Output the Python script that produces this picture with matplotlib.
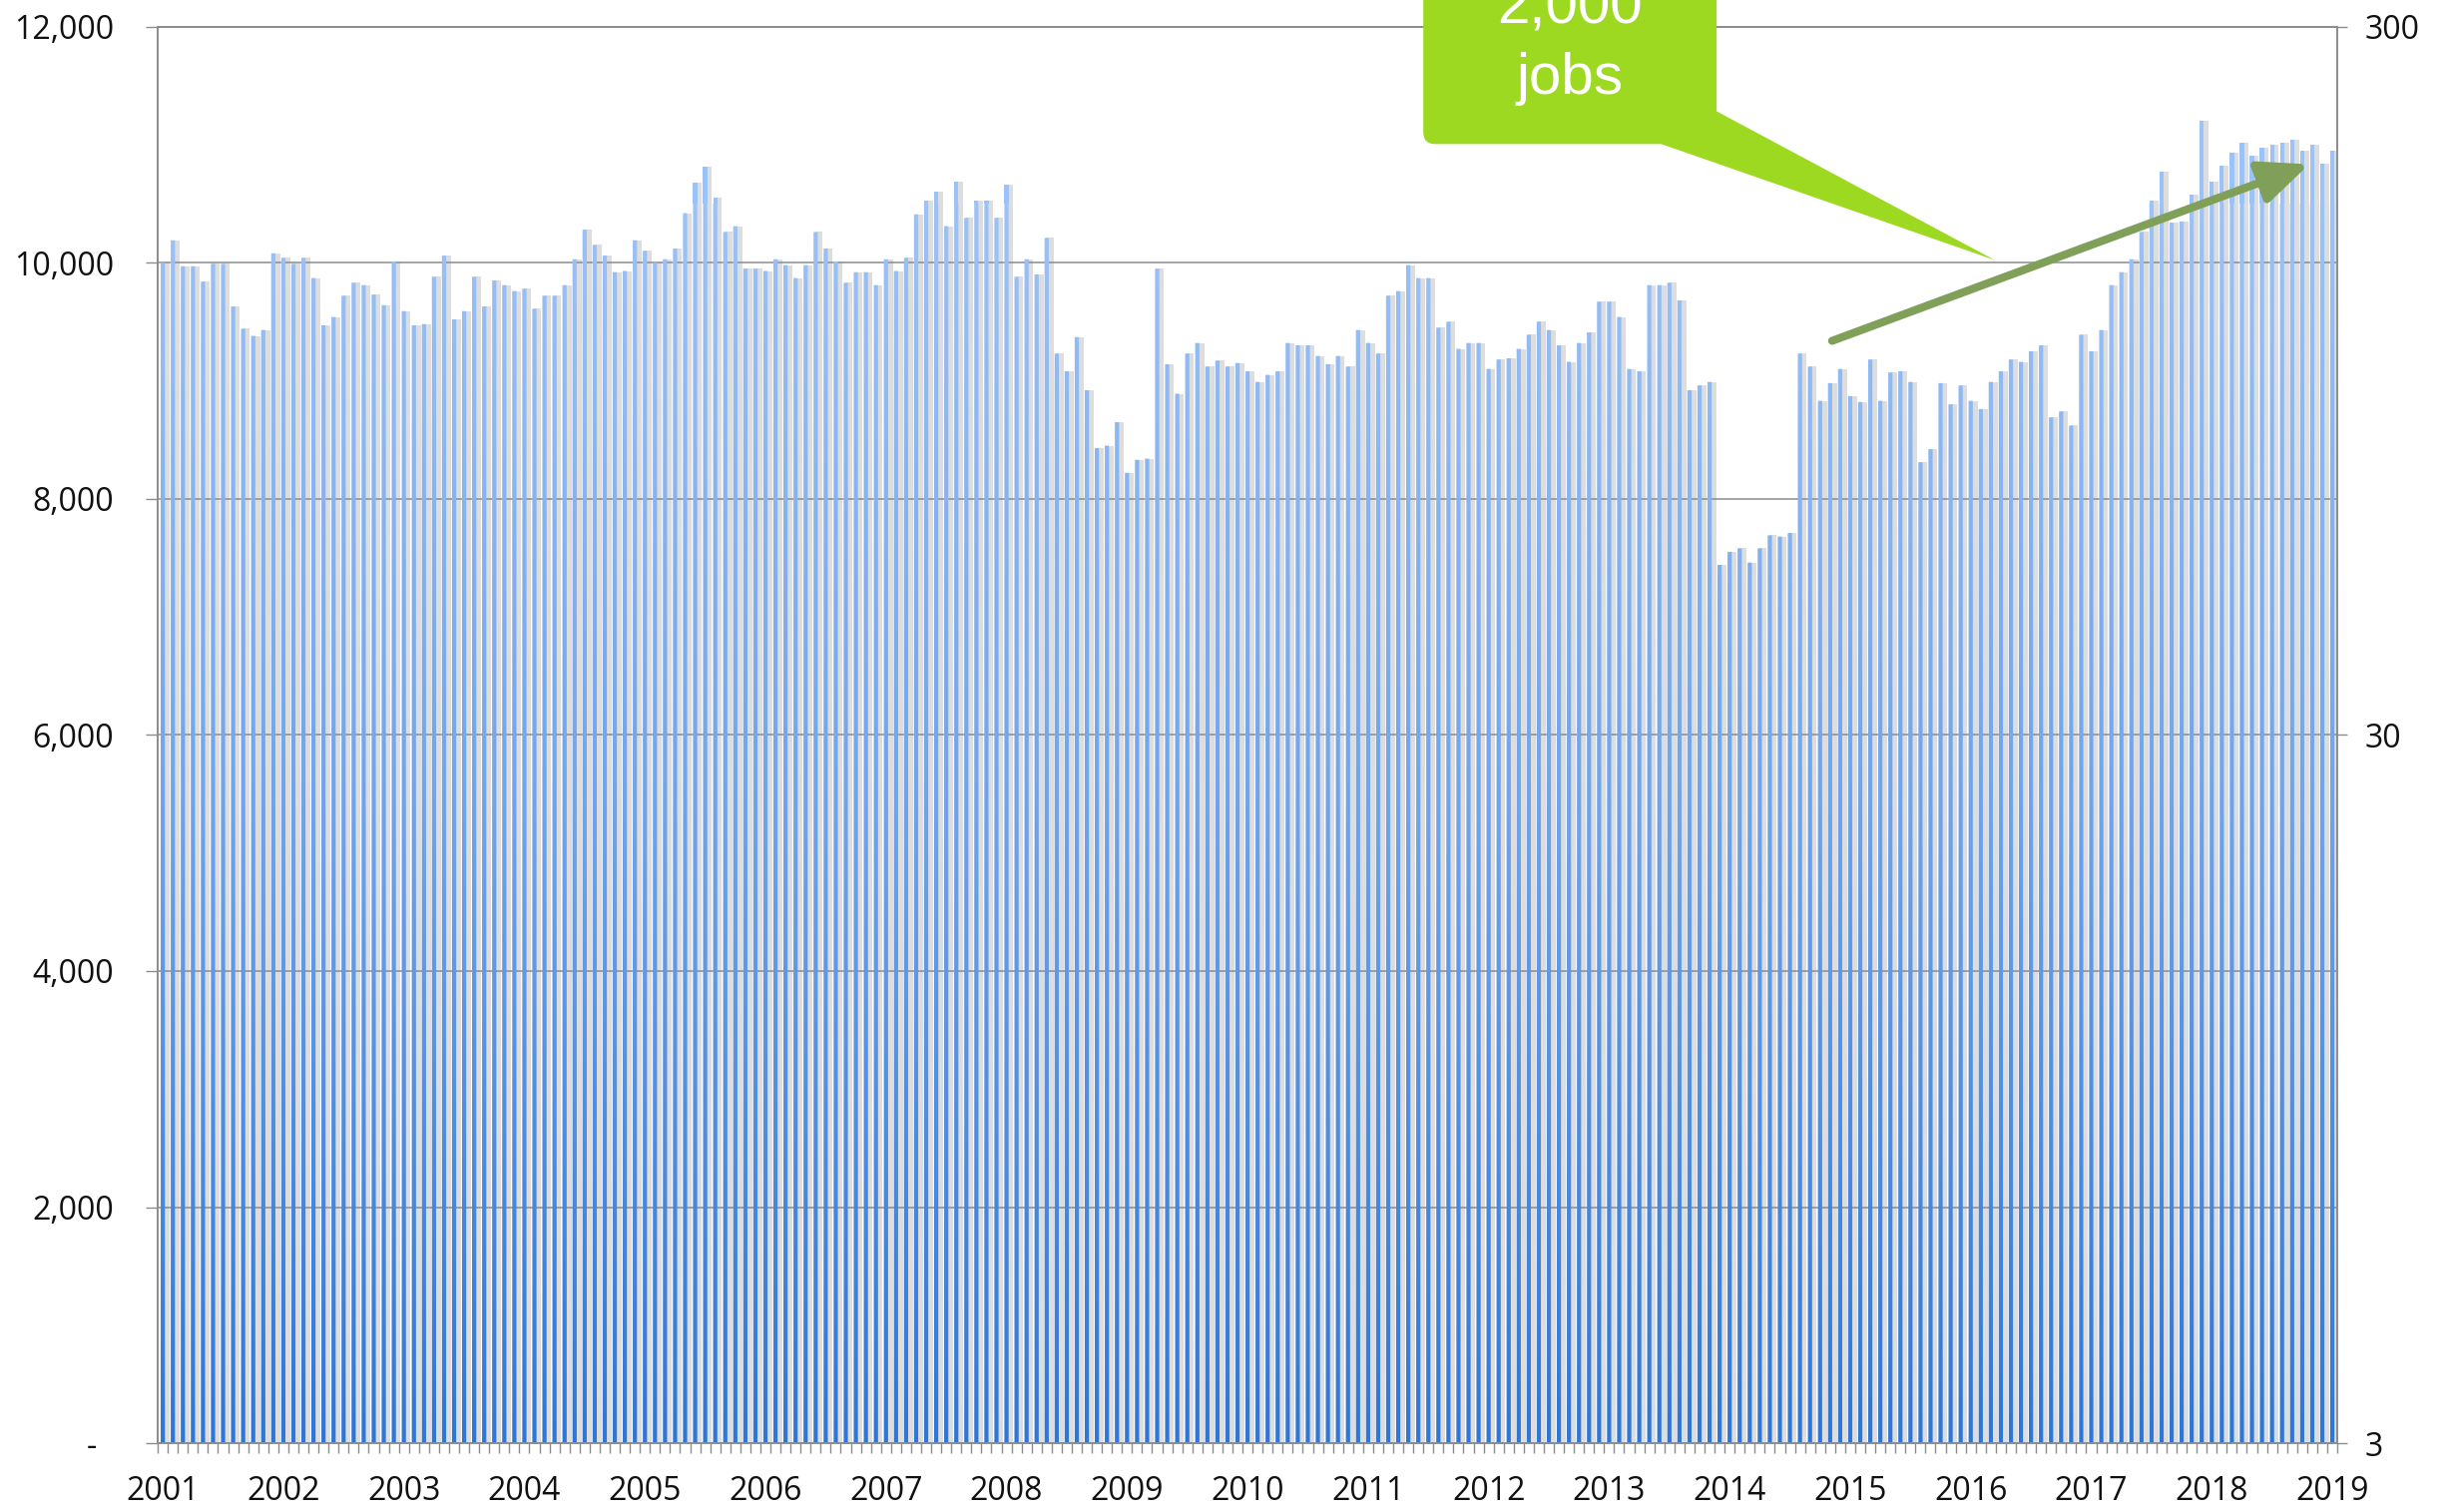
import numpy as np
import matplotlib
matplotlib.use('Agg')
import matplotlib.pyplot as plt
from matplotlib.colors import LinearSegmentedColormap
from matplotlib.patches import PathPatch, Polygon, FancyBboxPatch, FancyArrowPatch
from matplotlib.path import Path
from matplotlib.ticker import FixedLocator, FuncFormatter, NullLocator
from matplotlib.transforms import IdentityTransform

plt.rcParams['font.family'] = ['Open Sans', 'DejaVu Sans']

# valores mensais, jan/2001 .. jan/2019
jobs = [
    10000, 10190, 9970, 9970, 9840, 9990, 9990, 9630, 9440, 9380, 9430, 10080,
    10040, 9990, 10040, 9870, 9470, 9540, 9720, 9830, 9810, 9730, 9640, 10010,
    9590, 9470, 9480, 9880, 10060, 9520, 9590, 9880, 9630, 9850, 9810, 9760,
    9780, 9610, 9720, 9720, 9810, 10030, 10280, 10150, 10060, 9920, 9930, 10190,
    10100, 10000, 10030, 10120, 10420, 10680, 10810, 10550, 10260, 10310, 9950, 9950,
    9930, 10030, 9980, 9870, 9980, 10260, 10120, 10010, 9830, 9920, 9920, 9810,
    10030, 9930, 10040, 10410, 10530, 10600, 10310, 10690, 10380, 10530, 10530, 10380,
    10660, 9880, 10030, 9900, 10210, 9230, 9080, 9370, 8920, 8430, 8450, 8650,
    8220, 8330, 8340, 9950, 9140, 8890, 9230, 9320, 9120, 9170, 9120, 9150,
    9080, 8990, 9050, 9080, 9320, 9300, 9300, 9210, 9140, 9210, 9120, 9430,
    9320, 9230, 9720, 9760, 9980, 9870, 9870, 9450, 9500, 9270, 9320, 9320,
    9100, 9180, 9190, 9270, 9390, 9500, 9430, 9300, 9160, 9320, 9410, 9670,
    9670, 9540, 9100, 9080, 9810, 9810, 9830, 9680, 8920, 8960, 8990, 7440,
    7550, 7580, 7460, 7580, 7690, 7680, 7710, 9230, 9120, 8830, 8980, 9100,
    8870, 8820, 9180, 8830, 9070, 9080, 8990, 8310, 8420, 8980, 8800, 8960,
    8830, 8760, 8990, 9080, 9180, 9160, 9250, 9300, 8690, 8740, 8620, 9390,
    9250, 9430, 9810, 9920, 10030, 10260, 10530, 10770, 10340, 10350, 10580, 11200,
    10690, 10820, 10930, 11020, 10910, 10970, 11000, 11020, 11040, 10950, 11000, 10840,
    10950,
]
anos = list(range(2001, 2020))
ticks_esq = [0, 2000, 4000, 6000, 8000, 10000, 12000]
ticks_dir = [3, 30, 300]
texto_balao = ['2,000', 'jobs']

cinza = '#8C8C8C'
verde = '#9DD920'
verde_seta = '#80A05A'

fig = plt.figure(figsize=(24.55, 15.15), dpi=100)
ax = fig.add_axes([0.0644, 0.0455, 0.8896, 0.9369])

n = len(jobs)
x = np.arange(n)

# sombra cinza atras de cada barra
ax.bar(x + 0.3, jobs, width=0.75, color='#DDDDDD', zorder=1)
barras = ax.bar(x, jobs, width=0.42, color='none', edgecolor='none', zorder=2)

# degradê azul recortado pelas barras
grad = np.linspace(0, 1, 256).reshape(-1, 1)
cmap = LinearSegmentedColormap.from_list('barras', ['#2F77D6', '#6EA3EC', '#9CC3F7'])
im = ax.imshow(grad, cmap=cmap, aspect='auto', origin='lower',
               extent=[-0.5, n - 0.5, 0, 10500], zorder=2, interpolation='bilinear')
caminhos = [b.get_path().transformed(b.get_patch_transform()) for b in barras]
recorte = PathPatch(Path.make_compound_path(*caminhos), transform=ax.transData,
                    facecolor='none', edgecolor='none')
ax.add_patch(recorte)
im.set_clip_path(recorte)
# topo das barras acima do degradê
ax.bar(x, [max(v - 10500, 0) for v in jobs], bottom=10500, width=0.42, color='#9CC3F7', zorder=2)

ax.set_xlim(-0.5, n - 0.5)
ax.set_ylim(0, 12000)

ax.set_xticks(range(0, n, 12))
ax.set_xticklabels([str(a) for a in anos])
ax.xaxis.set_minor_locator(FixedLocator(np.arange(-0.5, n, 1)))
ax.tick_params(axis='x', which='major', length=0, pad=23, labelsize=23, labelcolor='#111111')
ax.tick_params(axis='x', which='minor', length=7, width=1, color=cinza)

ax.set_yticks(ticks_esq)
ax.yaxis.set_major_formatter(FuncFormatter(lambda v, p: '-  ' if v == 0 else '{:,.0f}'.format(v)))
ax.tick_params(axis='y', length=8.6, width=1, color=cinza, pad=23, labelsize=23, labelcolor='#111111')
ax.yaxis.grid(True, color=cinza, lw=1.1)

for s in ax.spines.values():
    s.set_color(cinza)
    s.set_linewidth(1.2)

ax2 = ax.twinx()
ax2.set_yscale('log')
ax2.set_ylim(3, 300)
ax2.yaxis.set_major_locator(FixedLocator(ticks_dir))
ax2.yaxis.set_major_formatter(FuncFormatter(lambda v, p: '%d' % v))
ax2.yaxis.set_minor_locator(NullLocator())
ax2.tick_params(axis='y', length=7, width=1, color=cinza, pad=13, labelsize=23, labelcolor='#111111')
for s in ax2.spines.values():
    s.set_color(cinza)
    s.set_linewidth(1.2)

# balão verde
p0 = ax.transData.transform((125.5, 11005))
p1 = ax.transData.transform((154.7, 12800))
caixa = FancyBboxPatch((p0[0], p0[1]), p1[0] - p0[0], p1[1] - p0[1],
                       boxstyle='round,pad=0,rounding_size=12', transform=IdentityTransform(),
                       facecolor=verde, edgecolor='none', zorder=10)
fig.add_artist(caixa)
ponta = Polygon([(149.2, 11005), (154.7, 11283), (182.4, 10022)], closed=True,
                transform=ax.transData, facecolor=verde, edgecolor='none', zorder=10)
fig.add_artist(ponta)
fig.text(140.1, 12024, texto_balao[0], transform=ax.transData, ha='center', va='baseline',
         color='white', fontsize=42, family=['Liberation Sans', 'DejaVu Sans'], zorder=11)
fig.text(140.1, 11428, texto_balao[1], transform=ax.transData, ha='center', va='baseline',
         color='white', fontsize=42, family=['Liberation Sans', 'DejaVu Sans'], zorder=11)

# seta de tendência
seta = FancyArrowPatch((166.2, 9338), (213.7, 10834), transform=ax.transData,
                       arrowstyle='-|>,head_length=30,head_width=13', mutation_scale=1,
                       lw=5.8, color=verde_seta, shrinkA=0, shrinkB=0, zorder=12)
fig.add_artist(seta)

fig.savefig('out.png', dpi=100)
